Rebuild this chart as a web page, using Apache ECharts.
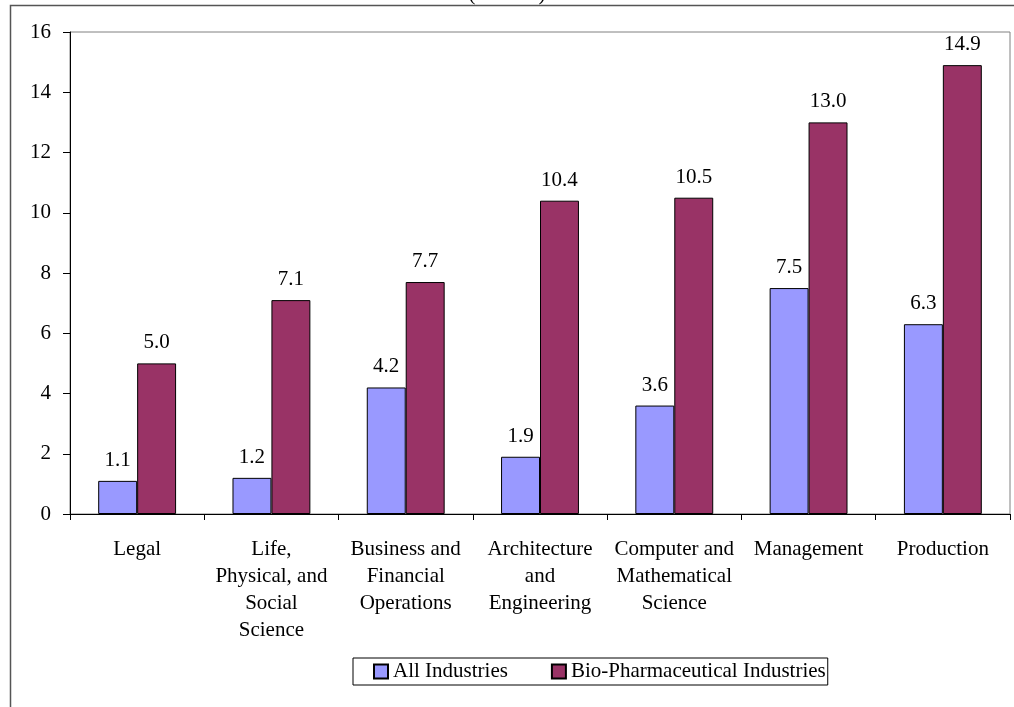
<!DOCTYPE html>
<html>
<head>
<meta charset="utf-8">
<script src="https://cdn.jsdelivr.net/npm/echarts@6/dist/echarts.min.js"></script>
<style>
  html, body { margin: 0; padding: 0; background: #ffffff; }
  #chart { width: 1014px; height: 707px; }
</style>
</head>
<body>
<div id="chart"></div>
<script>
// Occupation groups along the x axis
const categories = [
  'Legal',
  'Life,\nPhysical, and\nSocial\nScience',
  'Business and\nFinancial\nOperations',
  'Architecture\nand\nEngineering',
  'Computer and\nMathematical\nScience',
  'Management',
  'Production'
];

// Series values
const allIndustries = [1.1, 1.2, 4.2, 1.9, 3.6, 7.5, 6.3];
const bioPharma = [5.0, 7.1, 7.7, 10.4, 10.5, 13.0, 14.9];

// Value axis ticks
const yMin = 0;
const yMax = 16;
const yStep = 2;

const FONT = '"Liberation Serif", "Times New Roman", serif';
const FS = 21;

const chart = echarts.init(document.getElementById('chart'), null, { renderer: 'canvas' });

const valueLabel = {
  show: true,
  position: 'top',
  distance: 10,
  fontFamily: FONT,
  fontSize: FS,
  color: '#000',
  formatter: p => Number(p.value).toFixed(1)
};

chart.setOption({
  animation: false,
  backgroundColor: '#ffffff',
  title: {
    text: '(Percent)',
    left: 'center',
    top: -21,
    textStyle: { fontFamily: FONT, fontSize: FS, fontWeight: 'normal', color: '#000' }
  },
  graphic: [{
    type: 'rect',
    shape: { x: 10.5, y: 5.5, width: 1200, height: 900 },
    style: { fill: null, stroke: '#555', lineWidth: 1.5 },
    silent: true,
    z: 100
  }],
  legend: {
    left: 353,
    top: 658,
    padding: [3, 2, 3, 20],
    itemWidth: 14,
    itemHeight: 14,
    itemGap: 43,
    icon: 'rect',
    borderColor: '#000',
    borderWidth: 1,
    textStyle: { fontFamily: FONT, fontSize: FS, color: '#000' },
    data: ['All Industries', 'Bio-Pharmaceutical Industries']
  },
  grid: {
    left: 70,
    top: 32,
    right: 4,
    bottom: 193,
    show: true,
    borderColor: '#808080',
    borderWidth: 1,
    containLabel: false
  },
  xAxis: {
    type: 'category',
    data: categories,
    axisLine: { lineStyle: { color: '#000', width: 1 } },
    axisTick: { show: true, length: 6, lineStyle: { color: '#000' } },
    axisLabel: {
      interval: 0,
      margin: 22,
      fontFamily: FONT,
      fontSize: FS,
      lineHeight: 27,
      color: '#000',
      align: 'center'
    },
    splitLine: { show: false }
  },
  yAxis: {
    type: 'value',
    min: yMin,
    max: yMax,
    interval: yStep,
    axisLine: { show: true, lineStyle: { color: '#000', width: 1 } },
    axisTick: { show: true, length: 7, lineStyle: { color: '#000' } },
    axisLabel: {
      margin: 19,
      fontFamily: FONT,
      fontSize: FS,
      color: '#000',
      formatter: v => String(v)
    },
    splitLine: { show: false }
  },
  series: [
    {
      name: 'All Industries',
      type: 'bar',
      data: allIndustries,
      barGap: '0%',
      barCategoryGap: '42%',
      itemStyle: { color: '#9999FF', borderColor: '#000', borderWidth: 1 },
      label: valueLabel
    },
    {
      name: 'Bio-Pharmaceutical Industries',
      type: 'bar',
      data: bioPharma,
      barGap: '0%',
      barCategoryGap: '42%',
      itemStyle: { color: '#993366', borderColor: '#000', borderWidth: 1 },
      label: valueLabel
    }
  ]
});
</script>
</body>
</html>
